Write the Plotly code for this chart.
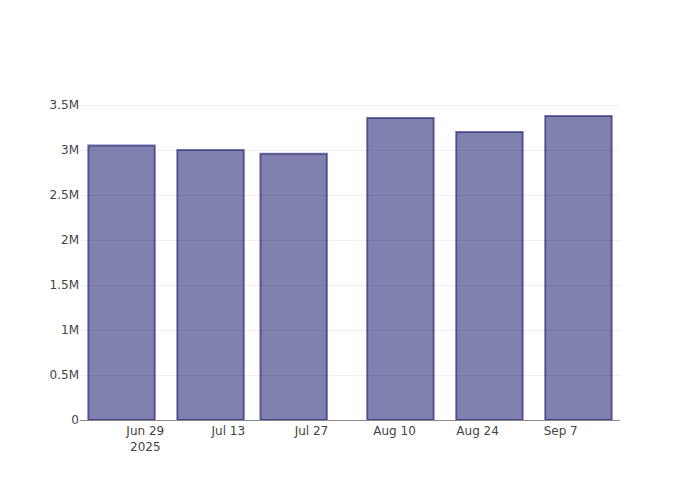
import plotly.graph_objects as go

dates = ["2025-06-25", "2025-07-10", "2025-07-24", "2025-08-11", "2025-08-26", "2025-09-10"]
values = [3050000, 3000000, 2958000, 3355000, 3200000, 3378000]

fig = go.Figure(
    go.Bar(
        x=dates,
        y=values,
        marker=dict(color="rgba(25,25,112,0.55)", line=dict(color="rgba(25,25,112,0.6)", width=2)),
    )
)

fig.update_layout(
    template="none",
    plot_bgcolor="white",
    paper_bgcolor="white",
    font=dict(family="DejaVu Sans", size=12, color="#444"),
    margin=dict(l=72, r=72, t=92, b=72),
    showlegend=False,
    xaxis=dict(
        type="date",
        showgrid=False,
        showline=True,
        linecolor="#888",
        linewidth=1,
        ticks="",
        zeroline=False,
    ),
    yaxis=dict(
        showgrid=True,
        gridcolor="#f0f0f0",
        gridwidth=1,
        zeroline=False,
        ticks="",
        tickvals=[0, 500000, 1000000, 1500000, 2000000, 2500000, 3000000, 3500000],
        ticktext=["0", "0.5M", "1M", "1.5M", "2M", "2.5M", "3M", "3.5M"],
    ),
)

fig.write_html("out.html")
